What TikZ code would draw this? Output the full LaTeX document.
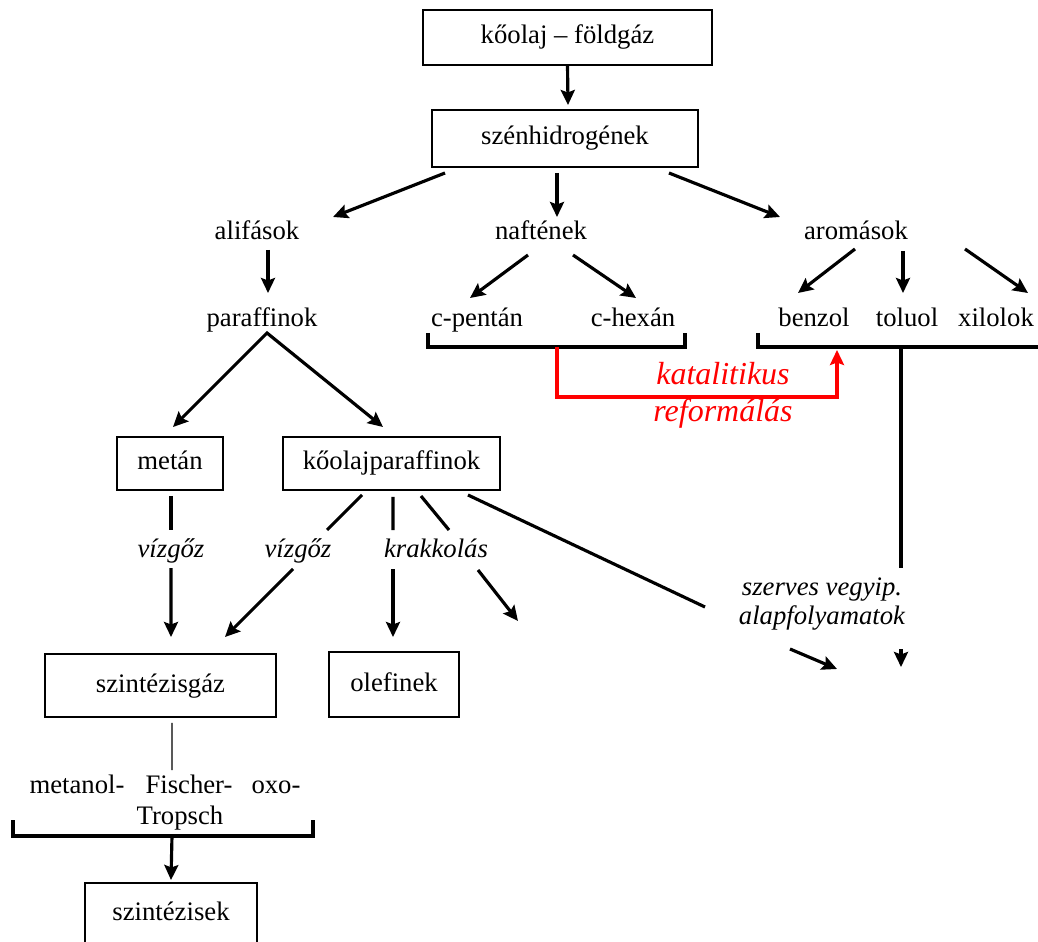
\documentclass[tikz,border=0pt]{standalone}
\usepackage{fontspec}
\setmainfont{Liberation Serif}
\usetikzlibrary{arrows.meta}

\newcommand{\diagfont}{\fontsize{15.2}{17}\selectfont}

\begin{document}
\begin{tikzpicture}[
    x=0.02cm, y=-0.02cm,
    font=\diagfont,
    box/.style={rectangle, draw, line width=0.95pt, inner sep=0pt, outer sep=0pt, text height=0.36cm, text depth=0.1cm},
    txt/.style={inner sep=0pt, text height=0.36cm, text depth=0.1cm},
    note/.style={inner sep=0pt, align=center, font=\diagfont\itshape},
    arr/.style={-{Stealth[length=0.3cm, width=0.28cm, inset=0.05cm]}, line width=1.8pt},
    arrboth/.style={{Stealth[length=0.3cm, width=0.28cm, inset=0.05cm]}-{Stealth[length=0.3cm, width=0.28cm, inset=0.05cm]}, line width=1.8pt},
    seg/.style={line width=1.8pt},
    thinseg/.style={line width=0.7pt},
    bracket/.style={line width=1.8pt}
]
    \useasboundingbox (0,0) rectangle (1038,942);

    % Top: source and hydrocarbons
    \node[box, minimum width=5.78cm, minimum height=1.1cm] (koolaj) at (567.5,37.5) {kőolaj – földgáz};
    \node[box, minimum width=5.32cm, minimum height=1.14cm] (szh) at (565,138.5) {szénhidrogének};

    % Groups
    \node[txt] (alif) at (257,233) {alifások};
    \node[txt] (naft) at (541,233) {naftének};
    \node[txt] (arom) at (856,233) {aromások};

    \node[txt] (paraf) at (262,320) {paraffinok};
    \node[txt] (cpent) at (477,320) {c-pentán};
    \node[txt] (chex) at (633,320) {c-hexán};
    \node[txt] (benz) at (814,320) {benzol};
    \node[txt] (tol) at (907,320) {toluol};
    \node[txt] (xil) at (996,320) {xilolok};

    \node[note, text=red, font=\fontsize{18.2}{21}\selectfont\itshape] (katal) at (723,395) {katalitikus\\reformálás};

    % Paraffins
    \node[box, minimum width=2.12cm, minimum height=1.06cm] (metan) at (170,463.5) {metán};
    \node[box, minimum width=4.34cm, minimum height=1.06cm] (kpar) at (391.5,463.5) {kőolajparaffinok};

    \node[txt, font=\diagfont\itshape] (vg1) at (171,551) {vízgőz};
    \node[txt, font=\diagfont\itshape] (vg2) at (298,551) {vízgőz};
    \node[txt, font=\diagfont\itshape] (krakk) at (436,551) {krakkolás};
    \node[note] (szerves) at (822,604) {szerves vegyip.\\alapfolyamatok};

    \node[box, minimum width=4.62cm, minimum height=1.26cm] (szgaz) at (160.5,685.5) {szintézisgáz};
    \node[box, minimum width=2.6cm, minimum height=1.3cm] (olef) at (394,684.5) {olefinek};

    % Syntheses
    \node[txt] (metanol) at (77,787) {metanol-};
    \node[txt] (fischer) at (189,787) {Fischer-};
    \node[txt] (oxo) at (276,787) {oxo-};
    \node[txt] (tropsch) at (180,818) {Tropsch};
    \node[box, minimum width=3.44cm, minimum height=1.22cm] (szint) at (171,913.5) {szintézisek};

    % Arrows from the top
    \draw[arr] (koolaj.south) -- ([shift={(3,-5)}]szh.north);
    \draw[arr] ([shift={(13,6)}]szh.south west) -- ([shift={(76,-16)}]alif.center);
    \draw[arr] ([shift={(-8,6)}]szh.south) -- ([shift={(16,-16)}]naft.center);
    \draw[arr] ([shift={(-29,6)}]szh.south east) -- ([shift={(-76,-16)}]arom.center);

    \draw[arr] ([shift={(11,17)}]alif.center) -- ([shift={(6,-27)}]paraf.center);
    \draw[arr] ([shift={(-13,22)}]naft.center) -- ([shift={(-7,-22)}]cpent.center);
    \draw[arr] ([shift={(32,22)}]naft.center) -- ([shift={(3,-22)}]chex.center);
    \draw[arr] ([shift={(-1,16)}]arom.center) -- ([shift={(-16,-27)}]benz.center);
    \draw[arr] ([shift={(47,18)}]arom.center) -- ([shift={(-4,-27)}]tol.center);
    \draw[arr] ([shift={(109,16)}]arom.center) -- ([shift={(32,-27)}]xil.center);

    % Brackets
    \draw[bracket] ([shift={(-49,13)}]cpent.center) -- ++(0,14) -| ([shift={(52,13)}]chex.center);
    \draw[bracket] ([shift={(-56,13)}]benz.center) -- ++(0,14) -- ([shift={(45,27)}]xil.center);
    \draw[bracket] ([shift={(-64,33)}]metanol.center) -- ++(0,16) -| ([shift={(37,33)}]oxo.center);

    % Catalytic reforming
    \draw[arr, red] ([shift={(80,27)}]cpent.center) |- ([shift={(23,77)}]benz.center) -- ([shift={(23,30)}]benz.center);

    % Paraffin branches
    \draw[arrboth] ([shift={(3,-10)}]metan.north) -- ([shift={(5,13)}]paraf.center) -- ([shift={(-8.5,-10)}]kpar.north);

    % Steam reforming and cracking
    \draw[seg] ([shift={(1,6)}]metan.south) -- ([shift={(0,-21)}]vg1.center);
    \draw[arr] ([shift={(0,17)}]vg1.center) -- ([shift={(10.5,-17)}]szgaz.north);
    \draw[seg] ([shift={(-29.5,5)}]kpar.south) -- ([shift={(29,-21)}]vg2.center);
    \draw[arr] ([shift={(-5,18)}]vg2.center) -- ([shift={(-51,-17)}]szgaz.north east);
    \draw[seg] ([shift={(1.5,7)}]kpar.south) -- ([shift={(-43,-21)}]krakk.center);
    \draw[arr] ([shift={(-43,18)}]krakk.center) -- ([shift={(-1,-15)}]olef.north);
    \draw[seg] ([shift={(29.5,6)}]kpar.south) -- ([shift={(13,-21)}]krakk.center);
    \draw[arr] ([shift={(42,19)}]krakk.center) -- ([shift={(82,70)}]krakk.center);
    \draw[seg] ([shift={(-32,5)}]kpar.south east) -- ([shift={(-117,3)}]szerves.center);

    % Aromatics to organic base processes
    \draw[seg] ([shift={(-6,27)}]tol.center) -- ([shift={(79,-36)}]szerves.center);
    \draw[arr] ([shift={(-32,45)}]szerves.center) -- ([shift={(15,65)}]szerves.center);
    \draw[arr] ([shift={(79,45)}]szerves.center) -- ([shift={(79,63)}]szerves.center);

    % Synthesis gas to syntheses
    \draw[thinseg] ([shift={(11.5,6)}]szgaz.south) -- ([shift={(-17,-17)}]fischer.center);
    \draw[arr] ([shift={(-8,18)}]tropsch.center) -- ([shift={(0,-3)}]szint.north);
\end{tikzpicture}
\end{document}
